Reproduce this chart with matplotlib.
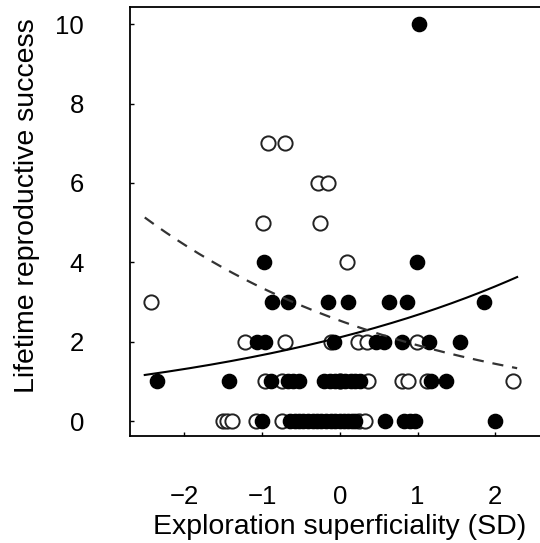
import numpy as np
import matplotlib
matplotlib.use("Agg")
import matplotlib.pyplot as plt

plt.rcParams["font.family"] = ["Liberation Sans", "DejaVu Sans"]

# Individuals with the filled symbol: exploration score (SD) and lifetime reproductive success
filled_x = [1.02,
            -0.97, 0.99,
            -0.87, -0.67, -0.15, 0.11, 0.63, 0.86, 1.85,
            -1.06, -0.96, -0.07, 0.47, 0.57, 0.80, 1.14, 1.54,
            -2.35, -1.42, -0.88, -0.67, -0.60, -0.52, -0.20, -0.13, -0.06, 0.00,
            0.07, 0.14, 0.20, 0.26, 1.17, 1.36,
            -1.00, -0.64, -0.58, -0.52, -0.47, -0.41, -0.35, -0.30, -0.24, -0.18,
            -0.12, -0.06, 0.00, 0.05, 0.10, 0.15, 0.20, 0.58, 0.82, 0.90, 0.97, 2.00]
filled_y = [10,
            4, 4,
            3, 3, 3, 3, 3, 3, 3,
            2, 2, 2, 2, 2, 2, 2, 2,
            1, 1, 1, 1, 1, 1, 1, 1, 1, 1,
            1, 1, 1, 1, 1, 1,
            0, 0, 0, 0, 0, 0, 0, 0, 0, 0,
            0, 0, 0, 0, 0, 0, 0, 0, 0, 0, 0, 0]

# Individuals with the open symbol
open_x = [-0.92, -0.70,
          -0.28, -0.15,
          -0.99, -0.26,
          0.09,
          -2.43,
          -1.22, -0.71, -0.12, 0.23, 0.35, 0.99,
          -0.96, -0.75, 0.00, 0.36, 0.80, 0.88, 1.12, 2.23,
          -1.50, -1.45, -1.39, -1.08, -0.74, 0.25, 0.32]
open_y = [7, 7,
          6, 6,
          5, 5,
          4,
          3,
          2, 2, 2, 2, 2, 2,
          1, 1, 1, 1, 1, 1, 1, 1,
          0, 0, 0, 0, 0, 0, 0]

# Fitted log-linear (Poisson) curves: y = exp(a + b * x)
solid_a, solid_b = 0.746, 0.238
dashed_a, dashed_b = 0.928, -0.2816
curve_range = (-2.51, 2.28)

x_ticks = [-2, -1, 0, 1, 2]
x_ticklabels = ["\u22122", "\u22121", "0", "1", "2"]
y_ticks = [0, 2, 4, 6, 8, 10]

fig = plt.figure(figsize=(5.40, 5.43), dpi=100)
ax = fig.add_axes([0.2407, 0.197, 0.7593, 0.790])

ax.scatter(filled_x, filled_y, s=105, facecolor="black", edgecolor="black",
           linewidth=1.0, zorder=3)
ax.scatter(open_x, open_y, s=105, facecolor="white", edgecolor="#222222",
           linewidth=1.4, zorder=2)

xs = np.linspace(curve_range[0], curve_range[1], 200)
ax.plot(xs, np.exp(solid_a + solid_b * xs), color="black", lw=1.5, zorder=4)
ax.plot(xs, np.exp(dashed_a + dashed_b * xs), color="#333333", lw=1.6,
        dashes=(5, 4), zorder=4)

ax.set_xlim(-2.70, 2.574)
ax.set_ylim(-0.378, 10.43)
ax.set_xticks(x_ticks)
ax.set_xticklabels(x_ticklabels)
ax.set_yticks(y_ticks)

ax.tick_params(axis="both", direction="in", length=3, width=1, labelsize=18.5,
               colors="black")
ax.tick_params(axis="x", pad=35)
ax.tick_params(axis="y", pad=33)

ax.spines["right"].set_visible(False)
for side in ("left", "bottom", "top"):
    ax.spines[side].set_linewidth(1.3)

ax.set_xlabel("Exploration superficiality (SD)", fontsize=20.5, va="center")
ax.xaxis.set_label_coords(0.512, -0.212)
ax.set_ylabel("Lifetime reproductive success", fontsize=20.5, va="center")
ax.yaxis.set_label_coords(-0.251, 0.538)

fig.savefig("out.png", dpi=100)
